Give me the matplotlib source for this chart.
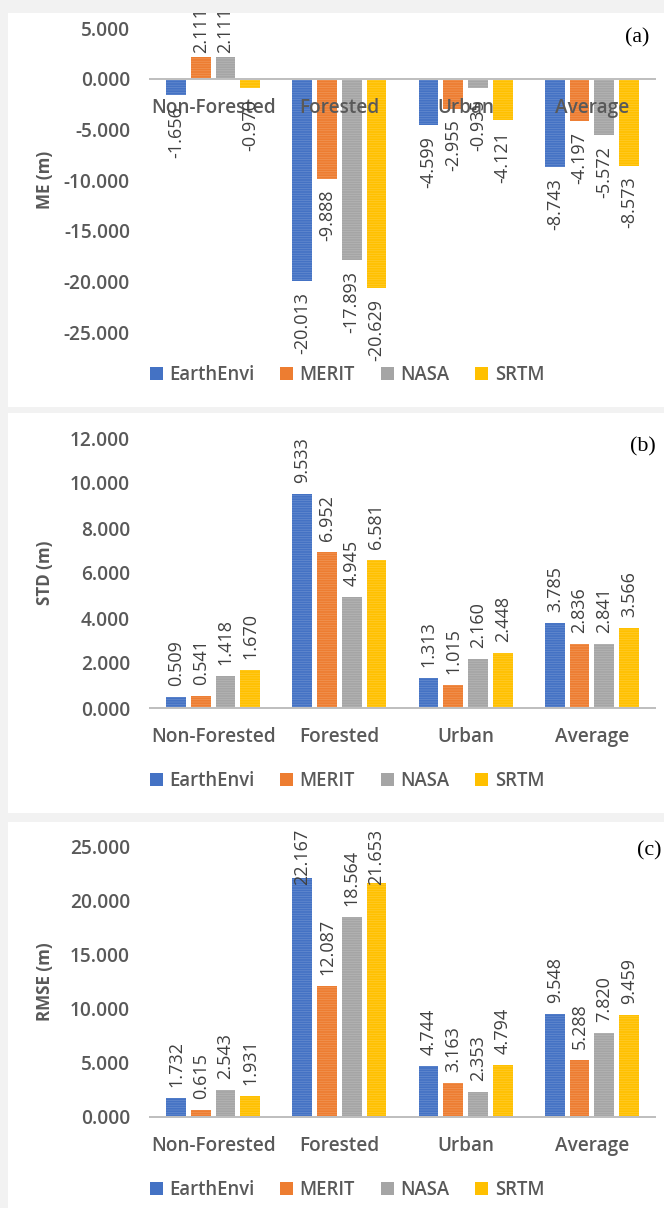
import matplotlib
matplotlib.use("Agg")
import matplotlib.pyplot as plt
from matplotlib.patches import Rectangle, Patch
from matplotlib.colors import to_rgb
import numpy as np

# data
categories = ["Non-Forested", "Forested", "Urban", "Average"]
series = ["EarthEnvi", "MERIT", "NASA", "SRTM"]
colors = ["#4472C4", "#ED7D31", "#A5A5A5", "#FFC000"]

# one row per series (EarthEnvi, MERIT, NASA, SRTM), one column per category
me_vals = [[-1.656, -20.013, -4.599, -8.743],
           [2.111, -9.888, -2.955, -4.197],
           [2.111, -17.893, -0.935, -5.572],
           [-0.970, -20.629, -4.121, -8.573]]
std_vals = [[0.509, 9.533, 1.313, 3.785],
            [0.541, 6.952, 1.015, 2.836],
            [1.418, 4.945, 2.160, 2.841],
            [1.670, 6.581, 2.448, 3.566]]
rmse_vals = [[1.732, 22.167, 4.744, 9.548],
             [0.615, 12.087, 3.163, 5.288],
             [2.543, 18.564, 2.353, 7.820],
             [1.931, 21.653, 4.794, 9.459]]

plt.rcParams["font.family"] = ["Open Sans", "DejaVu Sans"]
plt.rcParams["hatch.linewidth"] = 0.6

W, H = 664, 1208
fig = plt.figure(figsize=(W / 72, H / 72), dpi=72, facecolor="#f2f2f2")


def fx(px):
    return px / W


def fy(px):
    return 1 - px / H


def lighter(c, f=0.22):
    r, g, b = to_rgb(c)
    return (r + (1 - r) * f, g + (1 - g) * f, b + (1 - b) * f)


# layout in pixels (top-down): panel box, plot area, legend row, tag position
panels = [
    dict(vals=me_vals, ylabel="ME (m)", tag="(a)", box=(13, 407), area=(28, 332),
         ylim=(-25, 5), step=5, legend_y=375, tag_xy=(625, 38), clip=True, limit_top=7),
    dict(vals=std_vals, ylabel="STD (m)", tag="(b)", box=(413, 813), area=(438, 708),
         ylim=(0, 12), step=2, legend_y=781, tag_xy=(630, 447), clip=False, limit_top=None),
    dict(vals=rmse_vals, ylabel="RMSE (m)", tag="(c)", box=(822, 1208), area=(847, 1117),
         ylim=(0, 25), step=5, legend_y=1190, tag_xy=(637, 851), clip=False, limit_top=829),
]

tick_color = "#595959"
label_color = "#404040"
x = np.arange(len(categories))
spacing = 0.196
width = 0.155
shift_labels = []

for p in panels:
    top, bot = p["box"]
    rect = Rectangle((fx(8), fy(bot)), 1 - fx(8), (bot - top) / H,
                     transform=fig.transFigure, facecolor="white",
                     edgecolor="none", zorder=-5)
    fig.patches.append(rect)

    atop, abot = p["area"]
    ax = fig.add_axes([fx(150), fy(abot), fx(655) - fx(150), (abot - atop) / H])
    ax.set_zorder(1)
    ax.set_facecolor("none")
    for s in ax.spines.values():
        s.set_visible(False)
    ax.set_xlim(-0.5, 3.5)
    lo, hi = p["ylim"]
    ax.set_ylim(lo, hi)
    ticks = np.arange(lo, hi + p["step"] / 2, p["step"])
    ax.set_yticks(ticks)
    ax.set_yticklabels([f"{t:.3f}" for t in ticks])
    ax.tick_params(axis="y", length=0, pad=20, labelsize=19, labelcolor=tick_color)
    for t in ax.get_yticklabels():
        t.set_fontweight("semibold")
    ax.set_xticks([])

    for i, name in enumerate(series):
        xpos = x + (i - 1.5) * spacing
        vals = p["vals"][i]
        ax.bar(xpos, vals, width=width, color=colors[i], edgecolor=lighter(colors[i]),
               linewidth=0, hatch="-----", zorder=2)
        for xp, v in zip(xpos, vals):
            off = 11 if v >= 0 else -11
            t = ax.annotate(f"{v:.3f}", xy=(xp, v), xytext=(0, off),
                            textcoords="offset points", rotation=90,
                            ha="center", va="bottom" if v >= 0 else "top",
                            fontsize=18, color=label_color, zorder=6,
                            annotation_clip=False)
            if p["clip"]:
                t.set_clip_path(rect)
            if p["limit_top"] is not None and v >= 0:
                shift_labels.append((t, off, p["limit_top"]))

    ax.axhline(0, color="#BFBFBF", lw=2, zorder=3, clip_on=False)

    for i, c in enumerate(categories):
        ax.annotate(c, xy=(i, 0), xytext=(0, -34), textcoords="offset points",
                    ha="center", va="baseline", fontsize=19, fontweight="semibold",
                    color=tick_color, zorder=5, annotation_clip=False)

    fig.text(fx(45), fy((atop + abot) / 2), p["ylabel"], rotation=90,
             ha="center", va="center", fontsize=17, fontweight="bold",
             color=tick_color)

    fig.text(fx(p["tag_xy"][0]), fy(p["tag_xy"][1]), p["tag"], ha="left",
             va="center", fontsize=22, family="Liberation Serif", color="black")

    handles = [Patch(facecolor=c, edgecolor="none") for c in colors]
    fig.legend(handles, series, loc="center",
               bbox_to_anchor=(fx(347), fy(p["legend_y"])), ncol=4,
               frameon=False, handlelength=0.7, handleheight=0.7,
               handletextpad=0.35, columnspacing=1.4,
               labelcolor=tick_color, prop={"weight": "semibold", "size": 18.5})

# labels that would run past the top of the chart are pushed back down
fig.canvas.draw()
for t, off, limit_top in shift_labels:
    bb = t.get_window_extent()
    limit = H - limit_top
    if bb.y1 > limit:
        t.xyann = (0, off - (bb.y1 - limit))

fig.savefig("out.png", dpi=72, facecolor=fig.get_facecolor())
